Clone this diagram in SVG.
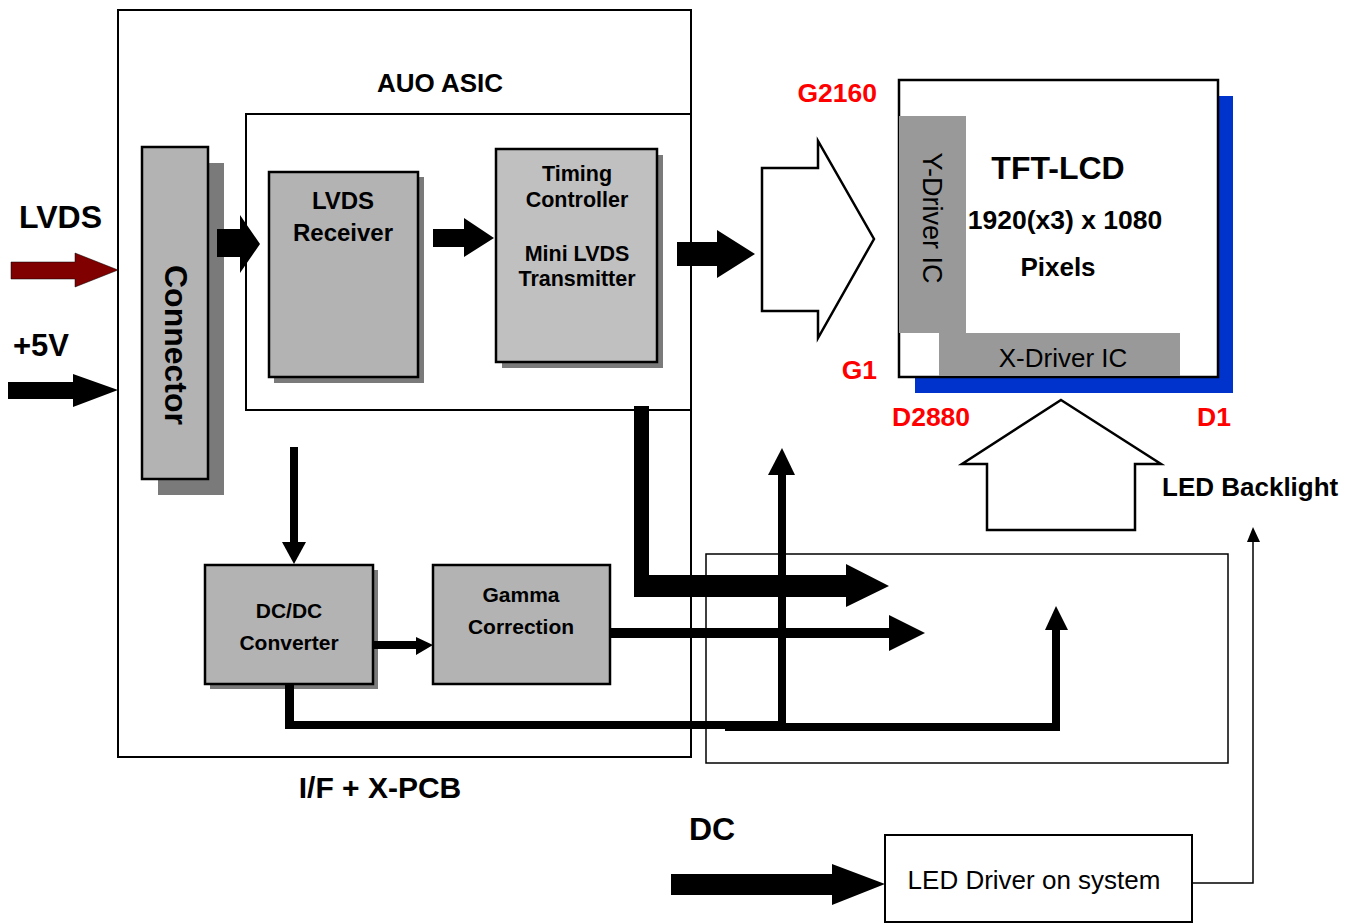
<svg xmlns="http://www.w3.org/2000/svg" width="1358" height="923" viewBox="0 0 1358 923">
<style>
text{font-family:"Liberation Sans",Arial,sans-serif;}
.b{font-weight:bold;}
.c{text-anchor:middle;}
.red{fill:#ff0000;font-weight:bold;font-size:26.5px;}
.box{stroke:#000;stroke-width:2.5;}
.shadow{fill:#7a7a7a;}
.frame{fill:none;stroke:#000;stroke-width:2;}
.blk{fill:#000;}
.hollow{fill:#fff;stroke:#000;stroke-width:2.5;}
</style>
<rect width="1358" height="923" fill="#fff"/>

<g id="pcb">
  <rect class="frame" x="118" y="10" width="573" height="747"/>
  <text class="b c" x="380" y="798" font-size="30">I/F + X-PCB</text>
</g>
<g id="asic">
  <rect class="frame" x="246" y="114" width="445" height="296"/>
  <text class="b c" x="440" y="92" font-size="26">AUO ASIC</text>
</g>
<g id="right-pcb">
  <rect x="706" y="554" width="522" height="209" fill="none" stroke="#000" stroke-width="1.5"/>
</g>

<g id="connector">
  <rect class="shadow" x="158" y="163" width="66" height="332"/>
  <rect class="box" x="142" y="147" width="66" height="332" fill="#b3b3b3"/>
  <text class="b c" font-size="32" transform="translate(165,345) rotate(90)">Connector</text>
</g>
<g id="lvds-receiver">
  <rect class="shadow" x="274" y="177" width="150" height="206"/>
  <rect class="box" x="269" y="172" width="149" height="205" fill="#b3b3b3"/>
  <text class="b c" x="343" y="209" font-size="24">LVDS</text>
  <text class="b c" x="343" y="241" font-size="24">Receiver</text>
</g>
<g id="timing-controller">
  <rect class="shadow" x="502" y="155" width="161" height="213"/>
  <rect class="box" x="496" y="149" width="161" height="213" fill="#c0c0c0"/>
  <text class="b c" x="577" y="181" font-size="21.5">Timing</text>
  <text class="b c" x="577" y="207" font-size="21.5">Controller</text>
  <text class="b c" x="577" y="261" font-size="21.5">Mini LVDS</text>
  <text class="b c" x="577" y="286" font-size="21.5">Transmitter</text>
</g>
<g id="dcdc">
  <rect class="shadow" x="210" y="570" width="168" height="119"/>
  <rect class="box" x="205" y="565" width="168" height="119" fill="#b3b3b3"/>
  <text class="b c" x="289" y="618" font-size="21">DC/DC</text>
  <text class="b c" x="289" y="650" font-size="21">Converter</text>
</g>
<g id="gamma">
  <rect class="box" x="433" y="565" width="177" height="119" fill="#b3b3b3"/>
  <text class="b c" x="521" y="602" font-size="21">Gamma</text>
  <text class="b c" x="521" y="634" font-size="21">Correction</text>
</g>

<g id="tft-lcd">
  <rect x="915" y="96" width="318" height="297" fill="#0033cc"/>
  <rect x="899" y="80" width="319" height="297" fill="#fff" stroke="#000" stroke-width="2.5"/>
  <rect x="899" y="116" width="67" height="217" fill="#999999"/>
  <rect x="939" y="333" width="241" height="43" fill="#999999"/>
  <text class="c" font-size="27" transform="translate(923,218) rotate(90)">Y-Driver IC</text>
  <text class="c" x="1063" y="367" font-size="26">X-Driver IC</text>
  <text class="b c" x="1058" y="179" font-size="32">TFT-LCD</text>
  <text class="b c" x="1065" y="229" font-size="26.5">1920(x3) x 1080</text>
  <text class="b c" x="1058" y="276" font-size="26">Pixels</text>
  <text class="red" x="877" y="102" text-anchor="end">G2160</text>
  <text class="red" x="877" y="379" text-anchor="end">G1</text>
  <text class="red" x="892" y="426">D2880</text>
  <text class="red" x="1197" y="426">D1</text>
</g>

<g id="led-backlight">
  <polygon class="hollow" points="1061,400 1161,464 1135,464 1135,530 987,530 987,464 962,464"/>
  <text class="b" x="1162" y="496" font-size="26">LED Backlight</text>
</g>
<g id="led-driver">
  <rect x="885" y="835" width="307" height="87" fill="#fff" stroke="#000" stroke-width="2"/>
  <text class="c" x="1034" y="889" font-size="26">LED Driver on system</text>
</g>

<g id="labels">
  <text class="b" x="19" y="228" font-size="32">LVDS</text>
  <text class="b" x="13" y="356" font-size="31">+5V</text>
  <text class="b" x="689" y="840" font-size="32">DC</text>
</g>

<g id="connectors">
  <polygon points="11,262 75,262 75,253 118,270 75,287 75,279 11,279" fill="#800000" stroke="#000" stroke-width="0.5"/>
  <polygon class="blk" points="8,382 73,382 73,374 118,390 73,407 73,399 8,399"/>
  <polygon class="blk" points="217,229 240,229 240,215 260,244 240,273 240,257 217,257"/>
  <polygon class="blk" points="433,229 464,229 464,218 494,238 464,257 464,247 433,247"/>
  <polygon class="blk" points="677,242 717,242 717,230 755,254 717,278 717,266 677,266"/>
  <polygon class="hollow" points="762,168 818,168 818,141 874,239 818,338 818,311 762,311"/>
  <polygon class="blk" points="634,406 649,406 649,575 846,575 846,564 889,586 846,607 846,597 634,597"/>
  <polygon class="blk" points="610,628 889,628 889,615 925,633 889,651 889,638 610,638"/>
  <rect class="blk" x="290" y="447" width="8" height="96"/>
  <polygon class="blk" points="282,542 306,542 294,564"/>
  <polygon class="blk" points="373,641 416,641 416,637 433,645 416,655 416,649 373,649"/>
  <polygon class="blk" points="285,685 294,685 294,721 782,721 782,729 285,729"/>
  <rect class="blk" x="725" y="723" width="335" height="8"/>
  <rect class="blk" x="778" y="474" width="8" height="256"/>
  <polygon class="blk" points="768,475 795,475 782,448"/>
  <rect class="blk" x="1052" y="628" width="8" height="103"/>
  <polygon class="blk" points="1045,630 1068,630 1056,606"/>
  <polygon class="blk" points="671,874 832,874 832,864 885,884 832,905 832,895 671,895"/>
  <polyline points="1192,883 1253,883 1253,540" fill="none" stroke="#000" stroke-width="1.5"/>
  <polygon class="blk" points="1247,542 1260,542 1253,527"/>
</g>
</svg>
